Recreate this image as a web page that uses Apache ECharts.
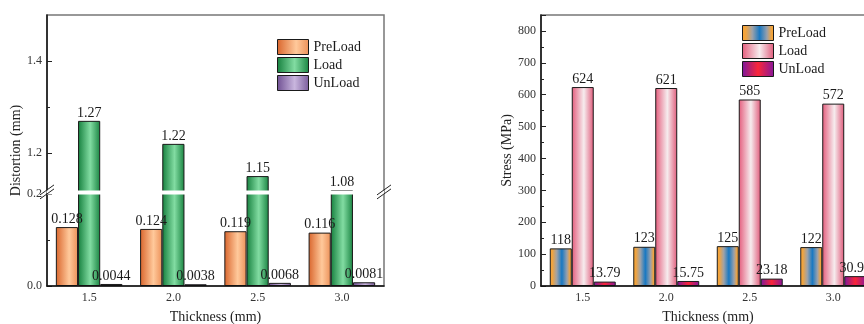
<!DOCTYPE html>
<html>
<head>
<meta charset="utf-8">
<script src="https://cdn.jsdelivr.net/npm/echarts@6/dist/echarts.min.js"></script>
<style>
html,body{margin:0;padding:0;background:#fff;}
#c{width:864px;height:324px;}
</style>
</head>
<body>
<div id="c"></div>
<script>
// ---- data ----
const categories = ['1.5', '2.0', '2.5', '3.0'];
const seriesNames = ['PreLoad', 'Load', 'UnLoad'];
// Left chart: Distortion (mm)
const distPreLoad = [0.128, 0.124, 0.119, 0.116];
const distLoad = [1.27, 1.22, 1.15, 1.08];
const distUnLoad = [0.0044, 0.0038, 0.0068, 0.0081];
const distTickLabels = [0, 0.2, 1.2, 1.4];
const distMinorTicks = [0.1, 1.3];
// Right chart: Stress (MPa)
const stressPreLoad = [118, 123, 125, 122];
const stressLoad = [624, 621, 585, 572];
const stressUnLoad = [13.79, 15.75, 23.18, 30.94];
// axis break on the left chart
const distBreakStart = 0.2;
const distBreakEnd = 1.12;

const FONT = 'Liberation Serif';
function grad(stops) {
  return new echarts.graphic.LinearGradient(0, 0, 1, 0,
    stops.map(s => ({ offset: s[0], color: s[1] })));
}
const leftColors = [
  grad([[0, '#d9652c'], [0.6, '#ffc99b'], [1, '#ec9058']]),
  grad([[0, '#16803e'], [0.55, '#82dca2'], [1, '#1a8442']]),
  grad([[0, '#6f4f92'], [0.55, '#c9b6de'], [1, '#7a5c9c']])
];
const rightColors = [
  grad([[0, '#f9a432'], [0.12, '#f0a440'], [0.32, '#9ea2a8'], [0.55, '#1878c2'], [0.78, '#98a0ac'], [0.92, '#f0a440'], [1, '#f9a432']]),
  grad([[0, '#e45c7c'], [0.55, '#f6ecee'], [1, '#e05a7a']]),
  grad([[0, '#7a189e'], [0.5, '#fa2638'], [1, '#86169c']])
];

const labelStyle = { show: true, position: 'top', distance: 1, fontFamily: FONT, fontSize: 14, color: '#1a1a1a' };
function mkSeries(name, data, color, xi, yi) {
  return {
    name: name, type: 'bar', data: data, xAxisIndex: xi, yAxisIndex: yi,
    barGap: '0%', barCategoryGap: '21%',
    itemStyle: { color: color, borderColor: '#1a1a1a', borderWidth: 1 },
    label: labelStyle
  };
}

const axisLineStyle = { color: '#111', width: 1.5 };
function xAx(gi) {
  return {
    type: 'category', gridIndex: gi, data: categories,
    name: 'Thickness (mm)', nameLocation: 'middle', nameGap: 24,
    nameTextStyle: { fontFamily: FONT, fontSize: 14, color: '#222' },
    axisLine: { lineStyle: axisLineStyle },
    axisTick: { inside: true, alignWithLabel: true, length: 5, lineStyle: { color: '#222' } },
    axisLabel: { fontFamily: FONT, fontSize: 12, color: '#333', margin: 6 },
    z: 3
  };
}
function mkLegend(left, top, colors) {
  return {
    data: seriesNames.map((n, i) => ({ name: n, icon: 'rect', itemStyle: { color: colors[i], borderColor: '#1a1a1a', borderWidth: 1 } })),
    left: left, top: top, orient: 'vertical', padding: 0, icon: 'rect',
    itemWidth: 31, itemHeight: 15, itemGap: 2,
    textStyle: { fontFamily: FONT, fontSize: 14, color: '#1a1a1a' },
    selectedMode: false
  };
}
const breakCfg = [{ start: distBreakStart, end: distBreakEnd, gap: '1.5%' }];
const breakAreaCfg = {
  show: true,
  itemStyle: { color: '#fff', borderColor: '#fff', borderWidth: 0, opacity: 1 },
  zigzagAmplitude: 0, zigzagZ: 100, expandOnClick: false
};

const chart = echarts.init(document.getElementById('c'), null, { renderer: 'canvas' });
const option = {
  animation: false,
  backgroundColor: '#fff',
  grid: [
    { left: 47, top: 15, width: 337, height: 271, show: true, borderColor: '#777', borderWidth: 1.5, backgroundColor: 'transparent', outerBoundsMode: 'none', containLabel: false },
    { left: 541, top: 15, width: 334, height: 271, show: true, borderColor: '#777', borderWidth: 1.5, backgroundColor: 'transparent', outerBoundsMode: 'none', containLabel: false }
  ],
  legend: [
    mkLegend(277, 39, leftColors),
    mkLegend(742, 25, rightColors)
  ],
  xAxis: [xAx(0), xAx(1)],
  yAxis: [
    {
      type: 'value', gridIndex: 0, min: 0, max: 1.5, interval: 0.2,
      breaks: breakCfg, breakArea: breakAreaCfg,
      name: 'Distortion (mm)', nameLocation: 'middle', nameGap: 23,
      nameTextStyle: { fontFamily: FONT, fontSize: 14, color: '#222' },
      axisLine: { show: true, lineStyle: axisLineStyle },
      axisTick: { show: true, inside: true, length: 5, customValues: distTickLabels, lineStyle: { color: '#222' } },
      minorTick: { show: false },
      splitLine: { show: false },
      axisLabel: {
        fontFamily: FONT, fontSize: 12, color: '#333', margin: 5,
        customValues: distTickLabels,
        formatter: function (v) { return Number(v).toFixed(1); }
      }
    },
    {
      type: 'value', gridIndex: 1, min: 0, max: 850, interval: 100,
      name: 'Stress (MPa)', nameLocation: 'middle', nameGap: 26,
      nameTextStyle: { fontFamily: FONT, fontSize: 14, color: '#222' },
      axisLine: { show: true, lineStyle: axisLineStyle },
      axisTick: { show: true, inside: true, length: 5, lineStyle: { color: '#222' } },
      minorTick: { show: true, splitNumber: 2, length: 3, lineStyle: { color: '#222' } },
      splitLine: { show: false },
      axisLabel: { fontFamily: FONT, fontSize: 12, color: '#333', margin: 5, showMaxLabel: false }
    },
    {
      // minor ticks of the left axis
      type: 'value', gridIndex: 0, min: 0, max: 1.5, interval: 0.2, position: 'left', offset: 0,
      breaks: breakCfg, breakArea: { show: false },
      axisLine: { show: false },
      axisTick: { show: true, inside: true, length: 3, customValues: distMinorTicks, lineStyle: { color: '#222' } },
      axisLabel: { show: false },
      splitLine: { show: false }
    }
  ],
  series: [
    mkSeries(seriesNames[0], distPreLoad, leftColors[0], 0, 0),
    mkSeries(seriesNames[1], distLoad, leftColors[1], 0, 0),
    mkSeries(seriesNames[2], distUnLoad, leftColors[2], 0, 0),
    mkSeries(seriesNames[0], stressPreLoad, rightColors[0], 1, 1),
    mkSeries(seriesNames[1], stressLoad, rightColors[1], 1, 1),
    mkSeries(seriesNames[2], stressUnLoad, rightColors[2], 1, 1)
  ]
};
chart.setOption(option);

// break marks "//" on both vertical borders of the left chart
const yLo = chart.convertToPixel({ yAxisIndex: 0 }, distBreakStart);
const yHi = chart.convertToPixel({ yAxisIndex: 0 }, distBreakEnd);
const yMid = (yLo + yHi) / 2;
const rect = chart.getModel().getComponent('grid', 0).coordinateSystem.getRect();
const marks = [];
[rect.x, rect.x + rect.width].forEach(function (x) {
  [-2, 2].forEach(function (d) {
    marks.push({
      type: 'line', z: 200, silent: true,
      shape: { x1: x - 7, y1: yMid + d + 5, x2: x + 7, y2: yMid + d - 5 },
      style: { stroke: '#222', lineWidth: 1 }
    });
  });
});
chart.setOption({ graphic: marks });
</script>
</body>
</html>
